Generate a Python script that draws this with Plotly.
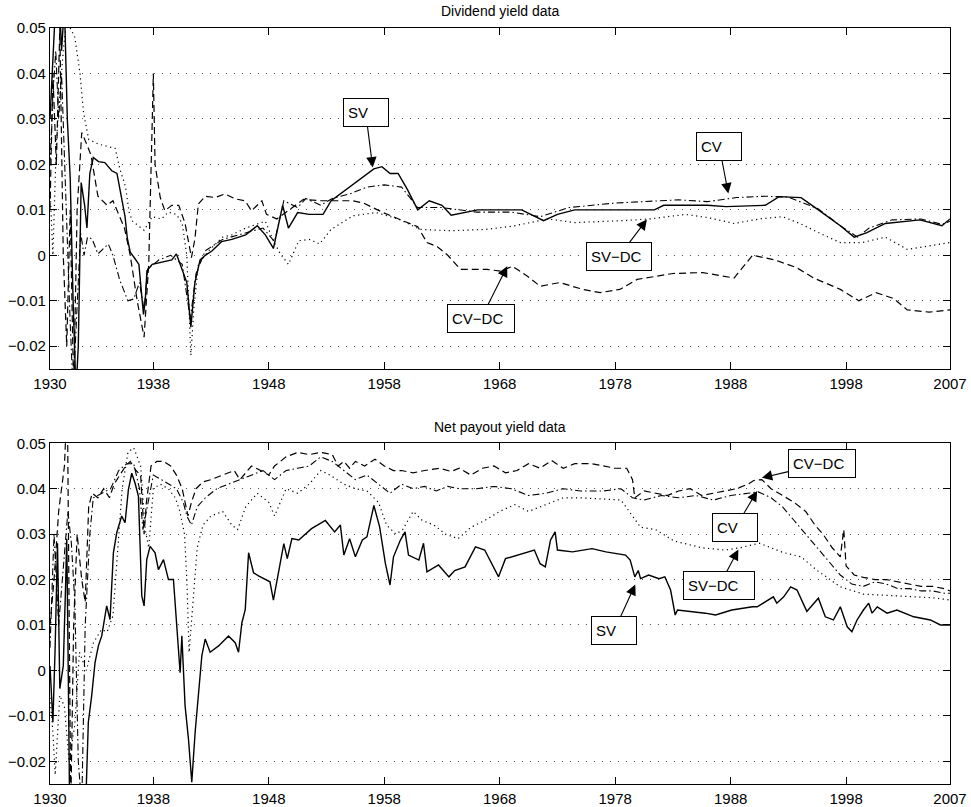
import plotly.graph_objects as go

# ---------------- Dividend yield data: (year, value) ----------------
div_sv = [
    (1929.05, 0.030), (1929.3, 0.045), (1929.55, 0.056), (1929.8, 0.060), (1930.05, 0.045),
    (1930.3, 0.055), (1930.55, 0.030), (1930.8, 0.017), (1931.05, -0.010), (1931.3, -0.030),
    (1931.5, -0.020), (1931.75, 0.016), (1932.05, 0.011), (1932.25, 0.006), (1932.5, 0.018),
    (1932.8, 0.0215), (1933.25, 0.0206), (1933.8, 0.0204), (1934.4, 0.0186), (1934.85, 0.018),
    (1935.25, 0.013), (1935.55, 0.0085), (1935.75, 0.0037), (1936.0, 0.0007), (1936.4, -0.0007),
    (1936.75, -0.002), (1937.0, -0.009), (1937.15, -0.013), (1937.3, -0.010), (1937.45, -0.0034),
    (1937.9, -0.002), (1938.7, -0.0016), (1939.6, -0.001), (1940.0, 0.0003), (1940.5, -0.003),
    (1940.9, -0.006), (1941.25, -0.0158), (1941.6, -0.006), (1942.05, -0.001), (1942.5, 0.0),
    (1943.1, 0.001), (1943.9, 0.003), (1944.8, 0.0035), (1946.0, 0.0045), (1947.0, 0.0065),
    (1947.7, 0.0045), (1948.4, 0.0015), (1949.2, 0.0110), (1949.7, 0.006), (1950.5, 0.0094),
    (1951.5, 0.009), (1952.7, 0.009), (1953.4, 0.012), (1955.0, 0.015), (1956.1, 0.017),
    (1957.1, 0.019), (1957.8, 0.0195), (1958.5, 0.018), (1959.2, 0.018), (1960.0, 0.0145),
    (1960.9, 0.010), (1961.9, 0.012), (1963.0, 0.011), (1963.8, 0.0088), (1966.1, 0.010),
    (1968.4, 0.010), (1969.9, 0.010), (1971.8, 0.0076), (1973.0, 0.009), (1974.5, 0.010),
    (1978.4, 0.010), (1981.4, 0.010), (1982.2, 0.011), (1986.0, 0.011), (1987.6, 0.0107),
    (1991.0, 0.011), (1992.2, 0.0129), (1994.1, 0.0127), (1995.6, 0.010), (1997.5, 0.0065),
    (1998.7, 0.004), (1999.8, 0.005), (2001.4, 0.007), (2004.4, 0.0078), (2006.3, 0.0065),
    (2007.0, 0.008),
]

div_cv = [
    (1929.05, 0.020), (1929.3, 0.035), (1929.55, 0.045), (1929.8, 0.030), (1930.05, 0.040),
    (1930.3, 0.020), (1930.55, 0.0), (1930.8, -0.015), (1931.05, -0.030), (1931.4, -0.010),
    (1931.7, 0.005), (1932.0, 0.0), (1932.3, 0.004), (1932.7, 0.0036), (1933.2, 0.0003),
    (1934.1, 0.0025), (1934.5, 0.0), (1935.1, -0.0055), (1935.8, -0.010), (1936.3, -0.0096),
    (1936.8, -0.006), (1937.2, -0.012), (1937.5, -0.003), (1938.5, -0.001), (1939.5, 0.0),
    (1940.5, -0.002), (1941.2, -0.014), (1941.7, -0.004), (1942.5, 0.001), (1944.0, 0.0035),
    (1946.0, 0.005), (1947.5, 0.006), (1948.5, 0.003), (1949.3, 0.012), (1950.5, 0.0105),
    (1951.2, 0.0125), (1952.5, 0.011), (1953.5, 0.0125), (1955.0, 0.0135), (1956.5, 0.0150),
    (1958.0, 0.0155), (1959.5, 0.0150), (1960.9, 0.0105), (1963.0, 0.0105), (1966.0, 0.0095),
    (1969.0, 0.0095), (1971.5, 0.0085), (1974.0, 0.0105), (1978.0, 0.0115), (1980.0, 0.0118),
    (1983.5, 0.0122), (1986.0, 0.0118), (1988.5, 0.0127), (1991.0, 0.013), (1993.0, 0.0128),
    (1995.6, 0.0102), (1997.5, 0.0065), (1999.0, 0.004), (2000.0, 0.006), (2002.0, 0.0078),
    (2004.5, 0.008), (2006.3, 0.0068), (2007.0, 0.0075),
]

div_svdc = [
    (1929.05, 0.015), (1929.3, 0.0), (1929.6, 0.025), (1929.9, 0.035), (1930.2, 0.045),
    (1930.5, 0.052), (1930.8, 0.050), (1931.2, 0.048), (1931.65, 0.040), (1931.95, 0.0315),
    (1932.4, 0.0255), (1933.2, 0.0245), (1934.0, 0.024), (1934.7, 0.0235), (1935.1, 0.019),
    (1935.6, 0.015), (1935.9, 0.0095), (1936.2, 0.0075), (1936.7, 0.0065), (1937.2, 0.0055),
    (1937.9, 0.0085), (1938.7, 0.008), (1939.3, 0.0095), (1940.0, 0.009), (1940.5, 0.007),
    (1940.9, 0.0), (1941.25, -0.022), (1941.5, -0.012), (1941.9, -0.002), (1942.8, 0.001),
    (1944.0, 0.004), (1944.8, 0.0045), (1946.0, 0.006), (1947.1, 0.007), (1947.7, 0.0075),
    (1948.4, 0.0032), (1949.0, 0.0003), (1949.7, -0.002), (1950.6, 0.0032), (1951.5, 0.0035),
    (1952.4, 0.0025), (1953.4, 0.0057), (1955.3, 0.0087), (1957.3, 0.0094), (1959.2, 0.008),
    (1961.1, 0.0057), (1963.8, 0.0054), (1966.8, 0.0057), (1969.1, 0.0064), (1972.2, 0.008),
    (1974.5, 0.0072), (1978.4, 0.0076), (1981.0, 0.008), (1984.1, 0.009), (1986.0, 0.0083),
    (1988.3, 0.007), (1990.5, 0.008), (1992.5, 0.0085), (1994.0, 0.007), (1995.6, 0.005),
    (1997.5, 0.0028), (1999.4, 0.0028), (2001.4, 0.004), (2003.3, 0.0013), (2005.2, 0.002),
    (2007.0, 0.0028),
]

div_cvdc = [
    (1929.05, 0.010), (1929.3, 0.040), (1929.6, 0.020), (1929.9, 0.050), (1930.2, 0.0),
    (1930.5, -0.020), (1930.8, 0.010), (1931.1, -0.030), (1931.4, 0.010), (1931.8, 0.027),
    (1932.3, 0.024), (1932.6, 0.022), (1933.2, 0.013), (1934.0, 0.011), (1934.5, 0.012),
    (1935.0, 0.009), (1935.5, 0.006), (1936.0, 0.0), (1936.6, -0.010), (1937.2, -0.018),
    (1937.6, -0.002), (1937.9, 0.029), (1938.0, 0.040), (1938.15, 0.020), (1938.6, 0.0127),
    (1939.0, 0.0098), (1939.6, 0.011), (1940.2, 0.011), (1940.75, 0.007), (1941.3, -0.0005),
    (1941.6, 0.0036), (1941.9, 0.0113), (1942.5, 0.013), (1943.35, 0.0127), (1944.2, 0.0135),
    (1945.1, 0.0124), (1945.95, 0.012), (1946.5, 0.0098), (1947.4, 0.012), (1947.8, 0.009),
    (1948.7, 0.008), (1951.0, 0.0123), (1952.5, 0.0120), (1953.4, 0.0120), (1955.3, 0.012),
    (1956.2, 0.0115), (1957.9, 0.0094), (1960.0, 0.0072), (1960.9, 0.0063), (1961.7, 0.0028),
    (1962.6, 0.0019), (1963.5, 0.0), (1964.6, -0.0031), (1966.9, -0.0031), (1968.1, -0.0035),
    (1969.1, -0.0024), (1970.4, -0.0046), (1971.5, -0.0068), (1973.2, -0.006), (1975.2, -0.0075),
    (1976.7, -0.0082), (1978.4, -0.0075), (1979.9, -0.0053), (1983.0, -0.004), (1985.6, -0.0038),
    (1988.3, -0.005), (1989.9, 0.0), (1991.8, -0.001), (1993.7, -0.0027), (1995.2, -0.005),
    (1997.5, -0.0075), (1999.1, -0.010), (2000.6, -0.0082), (2002.1, -0.0095), (2003.3, -0.012),
    (2005.2, -0.0125), (2007.0, -0.012),
]

# ---------------- Net payout yield data: (year, value) ----------------
npy_sv = [
    (1929.05, 0.001), (1929.3, -0.0114), (1929.5, 0.0055), (1929.7, 0.028), (1929.9, -0.004),
    (1930.2, 0.001), (1930.4, 0.0186), (1930.5, 0.029), (1930.6, 0.007), (1930.75, -0.030),
    (1931.0, -0.040), (1931.7, -0.045), (1932.2, -0.025), (1932.37, -0.0114), (1932.66, -0.0056),
    (1932.95, 0.0017), (1933.24, 0.0054), (1933.53, 0.0076), (1933.96, 0.0142), (1934.25, 0.0112),
    (1934.54, 0.0259), (1934.83, 0.0303), (1935.26, 0.034), (1935.55, 0.0325), (1935.84, 0.0398),
    (1936.13, 0.0434), (1936.42, 0.0412), (1936.71, 0.0383), (1937.0, 0.0164), (1937.2, 0.0142),
    (1937.43, 0.0244), (1937.72, 0.0273), (1938.15, 0.0259), (1938.44, 0.0222), (1938.88, 0.0244),
    (1939.31, 0.020), (1939.74, 0.020), (1940.03, 0.0098), (1940.32, -0.0005), (1940.47, 0.0076),
    (1940.75, -0.0078), (1941.04, -0.015), (1941.33, -0.0246), (1941.62, -0.0136), (1941.91, -0.0048),
    (1942.2, 0.0032), (1942.49, 0.0069), (1942.92, 0.004), (1943.65, 0.0054), (1944.51, 0.0076),
    (1945.09, 0.0061), (1945.38, 0.004), (1945.67, 0.0105), (1945.96, 0.0134), (1946.25, 0.0259),
    (1946.68, 0.0215), (1947.11, 0.0208), (1947.69, 0.020), (1948.1, 0.0195), (1948.4, 0.0155),
    (1948.8, 0.0213), (1949.3, 0.0279), (1949.6, 0.0246), (1950.0, 0.029), (1950.6, 0.0287),
    (1951.7, 0.0312), (1952.9, 0.033), (1953.7, 0.0305), (1954.2, 0.032), (1954.5, 0.0254),
    (1955.0, 0.029), (1955.5, 0.025), (1956.1, 0.0287), (1956.5, 0.0294), (1957.1, 0.0363),
    (1957.6, 0.0316), (1958.1, 0.0235), (1958.5, 0.0188), (1958.8, 0.025), (1959.4, 0.0287),
    (1959.8, 0.0305), (1960.1, 0.0254), (1961.0, 0.0243), (1961.4, 0.028), (1961.7, 0.0217),
    (1962.7, 0.0232), (1963.6, 0.0206), (1964.1, 0.022), (1965.0, 0.0228), (1965.9, 0.0272),
    (1966.7, 0.0265), (1967.3, 0.0235), (1967.9, 0.0206), (1968.5, 0.0246), (1969.6, 0.0254),
    (1971.0, 0.0265), (1971.5, 0.0235), (1971.95, 0.0228), (1972.4, 0.0287), (1972.8, 0.0305),
    (1973.0, 0.0265), (1974.3, 0.0261), (1976.0, 0.0268), (1977.2, 0.0261), (1978.9, 0.0254),
    (1979.3, 0.0243), (1979.7, 0.0206), (1980.0, 0.022), (1980.2, 0.0202), (1980.9, 0.021),
    (1981.8, 0.0202), (1982.3, 0.0206), (1982.8, 0.0177), (1983.2, 0.0122), (1983.4, 0.0133),
    (1984.7, 0.013), (1985.8, 0.0126), (1986.7, 0.0122), (1988.1, 0.0133), (1989.9, 0.014),
    (1990.3, 0.014), (1991.7, 0.0162), (1992.0, 0.0148), (1992.6, 0.0162), (1993.2, 0.0184),
    (1993.75, 0.0177), (1994.6, 0.013), (1995.6, 0.0159), (1996.2, 0.0118), (1996.9, 0.0111),
    (1997.5, 0.014), (1998.1, 0.0096), (1998.5, 0.0085), (1998.95, 0.0111), (1999.5, 0.0133),
    (1999.96, 0.0148), (2000.25, 0.0126), (2000.7, 0.014), (2001.55, 0.0126), (2002.4, 0.0133),
    (2003.86, 0.0118), (2005.3, 0.0111), (2006.17, 0.010), (2007.0, 0.010),
]

npy_cv = [
    (1929.05, 0.005), (1929.4, 0.030), (1929.8, 0.010), (1930.3, 0.025), (1930.6, 0.035),
    (1930.9, 0.028), (1931.2, 0.015), (1931.5, -0.020), (1931.8, -0.030), (1932.1, 0.010),
    (1932.5, 0.030), (1932.8, 0.038), (1933.5, 0.039), (1934.3, 0.040), (1935.0, 0.044),
    (1935.7, 0.0455), (1936.3, 0.0455), (1936.8, 0.040), (1937.1, 0.031), (1937.5, 0.036),
    (1938.0, 0.043), (1938.7, 0.042), (1939.3, 0.041), (1940.0, 0.040), (1940.6, 0.037),
    (1940.9, 0.034), (1941.3, 0.032), (1941.8, 0.036), (1942.5, 0.038), (1943.5, 0.040),
    (1944.5, 0.041), (1945.5, 0.042), (1946.5, 0.043), (1947.5, 0.044), (1948.5, 0.042),
    (1949.5, 0.044), (1950.5, 0.0445), (1951.5, 0.045), (1952.5, 0.047), (1953.5, 0.046),
    (1954.5, 0.044), (1955.5, 0.042), (1956.5, 0.043), (1957.5, 0.041), (1958.5, 0.039),
    (1959.5, 0.041), (1960.5, 0.040), (1961.5, 0.0405), (1962.5, 0.0395), (1963.5, 0.0405),
    (1964.5, 0.040), (1966.0, 0.040), (1967.5, 0.0405), (1969.0, 0.040), (1970.5, 0.0385),
    (1972.0, 0.039), (1973.5, 0.040), (1975.0, 0.0395), (1977.0, 0.0395), (1978.5, 0.040),
    (1979.5, 0.038), (1980.5, 0.0375), (1982.0, 0.0385), (1983.5, 0.038), (1985.0, 0.0385),
    (1986.5, 0.0375), (1988.0, 0.0385), (1989.5, 0.039), (1990.4, 0.0393), (1991.5, 0.038),
    (1992.5, 0.036), (1993.5, 0.033), (1994.5, 0.030), (1995.5, 0.027), (1996.5, 0.024),
    (1997.5, 0.021), (1998.5, 0.019), (1999.5, 0.0185), (2000.5, 0.0195), (2001.5, 0.019),
    (2002.5, 0.018), (2003.5, 0.018), (2004.5, 0.0175), (2005.5, 0.0175), (2006.5, 0.017),
    (2007.0, 0.017),
]

npy_svdc = [
    (1929.05, -0.006), (1929.3, -0.0136), (1929.5, -0.023), (1929.9, -0.0055), (1930.3, -0.008),
    (1930.7, -0.020), (1931.2, -0.012), (1931.6, 0.004), (1932.2, 0.0), (1932.8, 0.006),
    (1933.5, 0.009), (1934.0, 0.0085), (1934.5, 0.012), (1934.9, 0.025), (1935.3, 0.040),
    (1935.8, 0.048), (1936.3, 0.049), (1936.9, 0.045), (1937.3, 0.031), (1937.6, 0.027),
    (1938.0, 0.040), (1938.6, 0.041), (1939.3, 0.040), (1939.9, 0.038), (1940.3, 0.035),
    (1940.7, 0.030), (1940.9, 0.020), (1941.1, 0.004), (1941.4, 0.014), (1941.8, 0.027),
    (1942.3, 0.032), (1943.0, 0.034), (1944.0, 0.035), (1944.8, 0.032), (1945.3, 0.031),
    (1946.0, 0.036), (1947.0, 0.039), (1948.0, 0.037), (1948.5, 0.034), (1949.5, 0.040),
    (1950.5, 0.039), (1951.5, 0.041), (1952.5, 0.044), (1953.3, 0.043), (1954.5, 0.041),
    (1955.5, 0.040), (1956.5, 0.0395), (1957.5, 0.037), (1958.2, 0.032), (1959.0, 0.030),
    (1959.6, 0.031), (1960.5, 0.035), (1961.3, 0.033), (1962.3, 0.032), (1963.3, 0.030),
    (1964.4, 0.029), (1965.5, 0.0315), (1966.7, 0.033), (1968.0, 0.035), (1969.3, 0.0365),
    (1970.5, 0.035), (1972.0, 0.0365), (1973.5, 0.038), (1975.0, 0.038), (1977.0, 0.0378),
    (1978.5, 0.0375), (1979.5, 0.034), (1980.2, 0.0315), (1981.5, 0.031), (1983.1, 0.0285),
    (1985.5, 0.027), (1987.5, 0.0265), (1988.8, 0.027), (1990.5, 0.028), (1992.5, 0.026),
    (1994.1, 0.025), (1995.5, 0.022), (1997.5, 0.0184), (1999.5, 0.0168), (2001.5, 0.0165),
    (2003.5, 0.0163), (2005.5, 0.016), (2007.0, 0.0155),
]

npy_cvdc = [
    (1929.05, 0.010), (1929.4, 0.020), (1929.8, 0.035), (1930.3, 0.045), (1930.55, 0.060),
    (1930.7, 0.020), (1930.85, -0.030), (1931.1, 0.010), (1931.4, 0.030), (1931.8, 0.020),
    (1932.1, 0.015), (1932.4, 0.036), (1932.7, 0.039), (1933.2, 0.038), (1933.7, 0.040),
    (1934.2, 0.038), (1934.6, 0.041), (1935.1, 0.043), (1935.6, 0.045), (1936.0, 0.046),
    (1936.5, 0.044), (1936.9, 0.043), (1937.2, 0.030), (1937.4, 0.037), (1937.8, 0.045),
    (1938.3, 0.046), (1938.9, 0.046), (1939.5, 0.045), (1940.0, 0.043), (1940.5, 0.040),
    (1940.8, 0.036), (1941.0, 0.034), (1941.3, 0.037), (1941.7, 0.040), (1942.3, 0.0415),
    (1943.0, 0.042), (1944.0, 0.043), (1945.0, 0.044), (1945.5, 0.042), (1946.5, 0.045),
    (1947.3, 0.044), (1948.0, 0.043), (1948.5, 0.045), (1949.5, 0.047), (1950.5, 0.048),
    (1951.5, 0.0475), (1952.5, 0.048), (1953.5, 0.0475), (1954.0, 0.045), (1954.5, 0.046),
    (1955.0, 0.0445), (1955.5, 0.046), (1956.3, 0.045), (1957.2, 0.0465), (1958.0, 0.045),
    (1958.8, 0.044), (1959.5, 0.044), (1960.5, 0.0435), (1961.5, 0.044), (1962.8, 0.0445),
    (1963.8, 0.0438), (1964.5, 0.0445), (1965.5, 0.043), (1966.5, 0.0445), (1967.5, 0.045),
    (1968.5, 0.0435), (1969.5, 0.044), (1970.5, 0.0455), (1971.5, 0.0445), (1972.5, 0.0462),
    (1973.5, 0.0445), (1974.5, 0.0455), (1976.0, 0.0455), (1977.0, 0.045), (1978.0, 0.0445),
    (1979.0, 0.0445), (1979.5, 0.042), (1979.7, 0.038), (1980.5, 0.0395), (1981.5, 0.039),
    (1982.5, 0.0385), (1983.5, 0.0395), (1984.5, 0.040), (1985.5, 0.0385), (1986.5, 0.039),
    (1987.5, 0.0395), (1988.5, 0.040), (1989.5, 0.041), (1990.0, 0.0418), (1990.7, 0.042),
    (1991.5, 0.040), (1992.5, 0.0385), (1993.5, 0.037), (1994.5, 0.035), (1995.3, 0.032),
    (1996.0, 0.030), (1996.8, 0.027), (1997.5, 0.025), (1997.8, 0.031), (1998.0, 0.023),
    (1998.7, 0.021), (1999.5, 0.0205), (2000.5, 0.020), (2001.5, 0.020), (2002.5, 0.0195),
    (2003.5, 0.019), (2004.5, 0.0185), (2005.5, 0.0185), (2006.5, 0.018), (2007.0, 0.0175),
]

# Axis ticks and labels
year_ticks = [1929.05, 1938, 1948, 1958, 1968, 1978, 1988, 1998, 2007]
year_labels = ["1930", "1938", "1948", "1958", "1968", "1978", "1988", "1998", "2007"]
yield_ticks = [-0.02, -0.01, 0.0, 0.01, 0.02, 0.03, 0.04, 0.05]
yield_labels = ["\u22120.02", "\u22120.01", "0", "0.01", "0.02", "0.03", "0.04", "0.05"]

# Callouts: (text, tip year, tip value, box dx px, box dy px, box width px)
div_notes = [
    ("SV", 1957.0, 0.0193, -7, -55, 36),
    ("CV", 1987.8, 0.0136, -9, -47, 36),
    ("SV\u2212DC", 1980.75, 0.0079, -28, 37, 56),
    ("CV\u2212DC", 1968.65, -0.0024, -26, 52, 58),
]
npy_notes = [
    ("SV", 1979.74, 0.0189, -21, 46, 36),
    ("CV", 1990.3, 0.0395, -22, 37, 36),
    ("SV\u2212DC", 1988.67, 0.0266, -19, 36, 62),
    ("CV\u2212DC", 1990.7, 0.0424, 60, -14, 58),
]

FONT = "Liberation Sans, Arial, Helvetica, sans-serif"
styles = {
    "SV": dict(dash="solid", width=1.4),
    "CV": dict(dash="7px,3px,1.5px,3px", width=1.1),
    "SV-DC": dict(dash="1.2px,3.5px", width=1.2),
    "CV-DC": dict(dash="7px,4px", width=1.2),
}

fig = go.Figure()


def add_series(data, name, xa, ya):
    xs = [p[0] for p in data]
    ys = [p[1] for p in data]
    st = styles[name]
    fig.add_trace(go.Scatter(
        x=xs, y=ys, mode="lines", name=name, xaxis=xa, yaxis=ya,
        line=dict(color="black", width=st["width"], dash=st["dash"]),
        hoverinfo="skip", showlegend=False,
    ))


for data, name in [(div_svdc, "SV-DC"), (div_cvdc, "CV-DC"), (div_cv, "CV"), (div_sv, "SV")]:
    add_series(data, name, "x", "y")
for data, name in [(npy_svdc, "SV-DC"), (npy_cvdc, "CV-DC"), (npy_cv, "CV"), (npy_sv, "SV")]:
    add_series(data, name, "x2", "y2")

annotations = []
for notes, xr, yr in [(div_notes, "x", "y"), (npy_notes, "x2", "y2")]:
    for text, tx, ty, dx, dy, w in notes:
        annotations.append(dict(
            x=tx, y=ty, xref=xr, yref=yr, ax=dx, ay=dy, text=text,
            showarrow=True, arrowhead=2, arrowsize=1.9, arrowwidth=1.1, arrowcolor="black",
            standoff=0, bordercolor="black", borderwidth=1, borderpad=4, bgcolor="white",
            width=w, height=19, align="left", font=dict(family=FONT, size=15, color="black"),
        ))

annotations.append(dict(text="Dividend yield data", xref="paper", yref="paper", x=0.5, y=1.0225,
                        xanchor="center", yanchor="middle", showarrow=False,
                        font=dict(family=FONT, size=14, color="black")))
annotations.append(dict(text="Net payout yield data", xref="paper", yref="paper", x=0.5, y=0.4722,
                        xanchor="center", yanchor="middle", showarrow=False,
                        font=dict(family=FONT, size=14, color="black")))

xaxis_style = dict(
    range=[1929.05, 2007.0], tickvals=year_ticks, ticktext=year_labels,
    ticks="inside", ticklen=7, tickwidth=1, tickcolor="black",
    showline=True, linecolor="black", linewidth=1.2, mirror="ticks",
    showgrid=False, zeroline=False, ticklabelstandoff=1, automargin=False,
    tickfont=dict(family=FONT, size=15, color="black"),
)
yaxis_style = dict(
    range=[-0.025, 0.05], tickvals=yield_ticks, ticktext=yield_labels,
    ticks="inside", ticklen=7, tickwidth=1, tickcolor="black",
    showline=True, linecolor="black", linewidth=1.2, mirror="ticks",
    showgrid=True, gridcolor="#555555", gridwidth=1, griddash="1px,7px",
    zeroline=False, automargin=False, tickfont=dict(family=FONT, size=15, color="black"),
)

fig.update_layout(
    width=971, height=807,
    margin=dict(l=50, r=21, t=28, b=23),
    paper_bgcolor="white", plot_bgcolor="white",
    showlegend=False,
    font=dict(family=FONT, size=15, color="black"),
    xaxis=dict(domain=[0, 1], anchor="y", **xaxis_style),
    yaxis=dict(domain=[0.549, 1.0], anchor="x", **yaxis_style),
    xaxis2=dict(domain=[0, 1], anchor="y2", **xaxis_style),
    yaxis2=dict(domain=[0.0, 0.4507], anchor="x2", **yaxis_style),
    annotations=annotations,
)

fig.write_html("out.html")
